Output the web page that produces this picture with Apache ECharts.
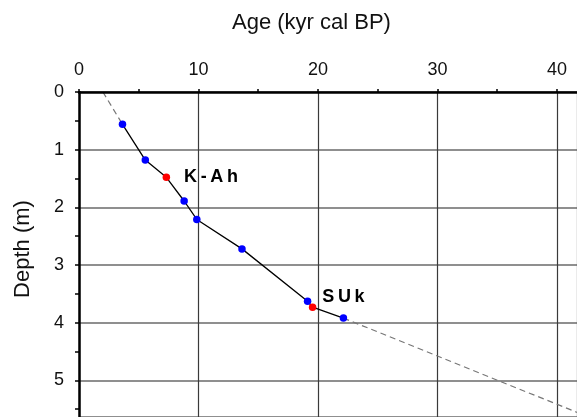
<!DOCTYPE html>
<html>
<head>
<meta charset="utf-8">
<script src="https://cdn.jsdelivr.net/npm/echarts@6/dist/echarts.min.js"></script>
<style>html,body{margin:0;padding:0;background:#fff;}#c{width:577px;height:417px;}</style>
</head>
<body>
<div id="c"></div>
<script>
// Age-depth model
const ages   = [3.64, 5.55, 7.31, 8.80, 9.86, 13.64, 19.13, 19.55, 22.13];
const depths = [0.56, 1.18, 1.48, 1.89, 2.21, 2.72, 3.63, 3.73, 3.92];
const tephra = ['', '', 'K-Ah', '', '', '', '', 'SUk', ''];
// extrapolations (dashed)
const topExtAges = [2.0, 3.64];
const topExtDepths = [0.0, 0.56];
const botExtAges = [22.13, 50];
const botExtDepths = [3.92, 6.25];
// ticks and labels
const xLabels = [0, 10, 20, 30, 40];
const xTicks = [0, 5, 10, 15, 20, 25, 30, 35, 40];
const yLabels = [0, 1, 2, 3, 4, 5];
const yTicks = [0, 0.5, 1, 1.5, 2, 2.5, 3, 3.5, 4, 4.5, 5, 5.5];
const xMax = 41.68;
const yMax = 5.635;

const FONT = '"Liberation Sans", Arial, Helvetica, sans-serif';
const spaced = s => s.split('').join('\u2009');

const mainData = ages.map((a, i) => {
  const item = { value: [a, depths[i]], itemStyle: { color: tephra[i] ? '#ff0000' : '#0000ff' } };
  if (tephra[i]) {
    item.label = {
      show: true, formatter: spaced(tephra[i]), position: 'right',
      distance: tephra[i] === 'SUk' ? 6 : 14,
      offset: tephra[i] === 'SUk' ? [0, -10] : [0, 0],
      fontFamily: FONT, fontWeight: 'bold', fontSize: 18, color: '#000'
    };
  }
  return item;
});

const chart = echarts.init(document.getElementById('c'), null, { renderer: 'canvas' });
chart.setOption({
  animation: false,
  backgroundColor: '#fff',
  grid: { left: 79, top: 92, right: 0, bottom: 0, containLabel: false },
  xAxis: [{
    type: 'value', position: 'top', min: 0, max: xMax, interval: 10, z: 5,
    axisLine: { show: true, onZero: false, lineStyle: { color: '#000', width: 2.5 } },
    axisTick: { show: true, inside: false, length: 3, customValues: xTicks, lineStyle: { color: '#000', width: 1.5 } },
    axisLabel: { fontFamily: FONT, fontSize: 18, color: '#111', margin: 13, customValues: xLabels },
    splitLine: { show: false }
  }, {
    type: 'value', position: 'bottom', min: 0, max: xMax, interval: 10,
    axisLine: { show: false }, axisTick: { show: false }, axisLabel: { show: false },
    splitLine: { show: true, lineStyle: { color: '#3a3a3a', width: 1.2 } }
  }],
  yAxis: [{
    type: 'value', inverse: true, min: 0, max: yMax, interval: 1, position: 'left', z: 5,
    axisLine: { show: true, onZero: false, lineStyle: { color: '#000', width: 2.5 } },
    axisTick: { show: true, inside: false, length: 4, customValues: yTicks, lineStyle: { color: '#000', width: 1.5 } },
    axisLabel: { fontFamily: FONT, fontSize: 18, color: '#111', margin: 15, customValues: yLabels },
    splitLine: { show: false }
  }, {
    type: 'value', inverse: true, min: 0, max: yMax, interval: 1, position: 'right',
    axisLine: { show: false }, axisTick: { show: false }, axisLabel: { show: false },
    splitLine: { show: true, lineStyle: { color: '#6a6a6a', width: 1.5 } }
  }],
  graphic: [
    { type: 'text', left: 232, top: 12,
      style: { text: 'Age (kyr cal BP)', font: '22px ' + FONT, fill: '#111' } },
    { type: 'text', x: 23, y: 249, rotation: Math.PI / 2, originX: 0, originY: 0,
      style: { text: 'Depth (m)', font: '22px ' + FONT, fill: '#111', align: 'center', verticalAlign: 'middle' } }
  ],
  series: [
    { type: 'line', data: topExtAges.map((a, i) => [a, topExtDepths[i]]), symbol: 'none',
      lineStyle: { color: '#777', width: 1.2, type: [6, 4] }, silent: true, clip: true, z: 2 },
    { type: 'line', data: botExtAges.map((a, i) => [a, botExtDepths[i]]), symbol: 'none',
      lineStyle: { color: '#777', width: 1.2, type: [6, 4] }, silent: true, clip: true, z: 2 },
    { type: 'line', data: mainData, symbol: 'circle', symbolSize: 7.5, showAllSymbol: true,
      lineStyle: { color: '#000', width: 1.3 }, itemStyle: { borderWidth: 0 }, z: 3 }
  ]
});
</script>
</body>
</html>
